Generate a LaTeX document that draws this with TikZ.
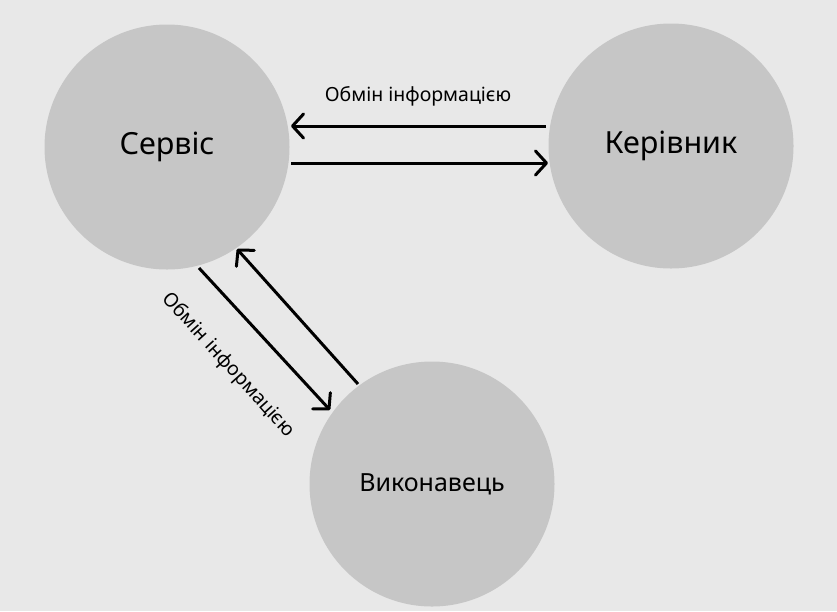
\documentclass[tikz,border=0pt]{standalone}
\usepackage{fontspec}
\setmainfont{Noto Sans}
\usetikzlibrary{arrows.meta}
\definecolor{bg}{HTML}{E8E8E8}
\definecolor{circ}{HTML}{C6C6C6}
\begin{document}
\begin{tikzpicture}[x=1pt,y=-1pt,
  actor/.style={circle,fill=circ,minimum size=245pt,inner sep=0pt,font=\fontsize{30.5}{34}\selectfont},
  flow/.style={line width=3pt,-{Straight Barb[length=11pt,width=24pt,line cap=round,line join=round]}},
  lbl/.style={font=\fontsize{19.5}{23}\selectfont}]
\fill[bg] (0,0) rectangle (837,611);
\useasboundingbox (0,0) rectangle (837,611);
\node[actor] (s) at (167,147) {Сервіс};
\node[actor] (k) at (671,146) {Керівник};
\node[actor,font=\fontsize{25}{29}\selectfont] (v) at (432,484) {Виконавець};
\coordinate (a1) at (546,126);
\coordinate (a2) at (291,126);
\coordinate (b1) at (291,163);
\coordinate (b2) at (548,163);
\coordinate (c1) at (199,268);
\coordinate (c2) at (330,410);
\coordinate (d1) at (358,384);
\coordinate (d2) at (237,249);
\draw[flow] (a1) -- (a2);
\draw[flow] (b1) -- (b2);
\draw[flow] (c1) -- (c2);
\draw[flow] (d1) -- (d2);
\node[lbl] (l1) at (418,96) {Обмін інформацією};
\node[lbl,rotate=-48] (l2) at (228,365) {Обмін інформацією};
\end{tikzpicture}
\end{document}
